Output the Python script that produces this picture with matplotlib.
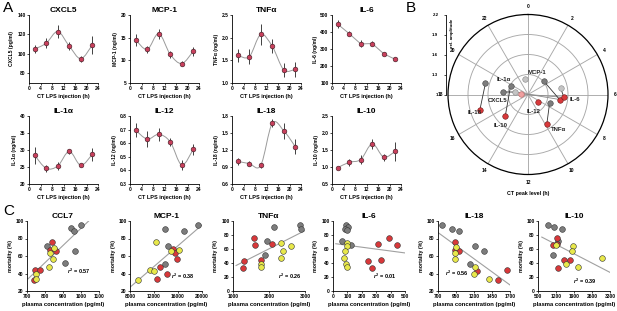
import numpy as np
import matplotlib
matplotlib.use('Agg')
import matplotlib.pyplot as plt
from matplotlib.path import Path
from matplotlib.patches import PathPatch

plt.rcParams['font.family'] = ['Liberation Sans', 'DejaVu Sans']
plt.rcParams['font.weight'] = 'bold'
plt.rcParams['axes.linewidth'] = 0.6
plt.rcParams['mathtext.fontset'] = 'custom'
plt.rcParams['mathtext.it'] = 'Liberation Sans:italic:bold'
plt.rcParams['mathtext.rm'] = 'Liberation Sans:bold'

W, H = 617, 311

# ---- panel A : cytokine levels over CT ----
ct = [2, 6, 10, 14, 18, 22]
cxcl5 = [105, 111, 123, 108, 95, 109]
cxcl5_err = [4, 5, 7, 4, 3, 9]
mcp1 = [14.5, 12.4, 15.9, 11.3, 9.3, 12.0]
mcp1_err = [1.3, 0.8, 1.1, 0.8, 0.5, 1.0]
tnfa = [1.61, 1.58, 2.07, 1.81, 1.29, 1.30]
tnfa_err = [0.15, 0.17, 0.23, 0.15, 0.15, 0.17]
il6 = [446, 390, 330, 332, 272, 239]
il6_err = [25, 15, 20, 15, 10, 12]
il1a = [28.4, 24.6, 25.3, 29.6, 25.5, 28.7]
il1a_err = [2.5, 1.0, 1.2, 0.8, 0.6, 1.8]
il12 = [0.695, 0.63, 0.665, 0.61, 0.44, 0.555]
il12_err = [0.05, 0.06, 0.05, 0.03, 0.04, 0.04]
il18 = [1.0, 0.96, 0.93, 1.67, 1.54, 1.26]
il18_err = [0.06, 0.04, 0.04, 0.07, 0.14, 0.13]
il10 = [0.98, 1.14, 1.22, 1.68, 1.29, 1.46]
il10_err = [0.03, 0.1, 0.12, 0.15, 0.1, 0.28]

# ---- panel B : phase / amplitude (CT h, rel. amplitude) ----
b_gray_h = [18.97, 19.7, 7.5, 3.3, 18.4]
b_gray_a = [1.66, 1.29, 1.35, 1.31, 1.37]
b_red_h = [16.8, 15.1, 9.8, 6.6, 6.3, 8.5]
b_red_a = [1.76, 1.47, 1.52, 1.48, 1.54, 1.18]
b_light_h = [5.3, 18.7, 23.4]
b_light_a = [1.50, 1.20, 1.24]
b_pink_h = [18.3]
b_pink_a = [1.10]
# connecting lines: (from h, from a, to h, to a)
b_links = [(18.97, 1.66, 16.8, 1.76), (19.7, 1.29, 15.1, 1.47),
           (7.5, 1.35, 9.8, 1.52), (3.3, 1.31, 6.6, 1.48),
           (5.3, 1.50, 6.3, 1.54), (18.4, 1.37, 18.7, 1.20)]
b_long = [(18.3, 1.10, 6.3, 1.54), (18.7, 1.20, 6.6, 1.48)]

# ---- panel C : mortality vs plasma concentration ----
ccl7_gray = ([998, 942, 960, 812, 966, 910], [95, 92, 89, 71, 66, 52])
ccl7_red = ([840, 830, 862, 747, 774, 737], [76, 67, 66, 44, 44, 33])
ccl7_yel = ([849, 830, 845, 821, 750, 752], [69, 64, 57, 47, 39, 34])
mcp_gray = ([19400, 17000, 13800, 14300, 13900, 15400], [95, 89, 91, 71, 51, 66])
mcp_red = ([15200, 15500, 15800, 13000, 12500, 14100], [68, 64, 57, 47, 34, 39])
mcp_yel = ([9300, 11400, 12000, 12400, 14800, 16100], [33, 44, 43, 76, 66, 67])
tnf_gray = ([2150, 1950, 1880, 2860, 2900], [91, 71, 52, 95, 89])
tnf_red = ([1300, 1280, 1590, 1620, 1780, 2070], [43, 33, 76, 66, 44, 67])
tnf_yel = ([1770, 1790, 2330, 2380, 2320, 2600], [39, 35, 69, 57, 47, 65])
il6_gray = ([93, 105, 84, 98, 65, 128], [95, 92, 89, 87, 71, 66])
il6_red = ([245, 270, 330, 315, 390, 445], [43, 33, 44, 67, 76, 66])
il6_yel = ([100, 95, 80, 75, 90, 100], [69, 64, 57, 47, 39, 35])
il18_gray = ([760, 890, 990, 1210, 1340, 1150], [95, 91, 89, 71, 66, 51])
il18_red = ([940, 930, 985, 1240, 1530, 1660], [76, 67, 66, 43, 33, 44])
il18_yel = ([950, 935, 935, 1210, 1205, 1410], [70, 64, 57, 47, 39, 34])
il10_gray = ([900, 1120, 1450, 1280, 1080], [95, 91, 89, 71, 52])
il10_red = ([1220, 1080, 1240, 1500, 1750, 1290], [76, 66, 67, 44, 44, 33])
il10_yel = ([1880, 1820, 1580, 2050, 3000, 1200], [64, 57, 39, 34, 47, 66])

fig = plt.figure(figsize=(W / 100, H / 100), dpi=100)


def px_axes(x, top, w, h, **kw):
    return fig.add_axes([x / W, 1 - (top + h) / H, w / W, h / H], **kw)


def style(ax):
    for s in ['top', 'right']:
        ax.spines[s].set_visible(False)
    ax.tick_params(labelsize=3.5, length=1.5, width=0.5, pad=1)
    for lab in ax.get_xticklabels() + ax.get_yticklabels():
        lab.set_fontweight('bold')


def smooth_path(x, y):
    pts = np.column_stack([x, y]).astype(float)
    ext = np.vstack([pts[0], pts, pts[-1]])
    verts = [pts[0]]
    codes = [Path.MOVETO]
    for i in range(len(pts) - 1):
        p0, p1, p2, p3 = ext[i], ext[i + 1], ext[i + 2], ext[i + 3]
        verts += [p1 + (p2 - p0) / 6, p2 - (p3 - p1) / 6, p2]
        codes += [Path.CURVE4] * 3
    return Path(verts, codes)


a_panels = [
    ('CXCL5', 'CXCL5 (pg/ml)', cxcl5, cxcl5_err, (70, 140), [80, 100, 120, 140], True),
    ('MCP-1', 'MCP-1 (ng/ml)', mcp1, mcp1_err, (5, 20), [5, 10, 15, 20], True),
    ('TNFα', 'TNFα (ng/ml)', tnfa, tnfa_err, (1.0, 2.5), [1.0, 1.5, 2.0, 2.5], True),
    ('IL-6', 'IL-6 (ng/ml)', il6, il6_err, (100, 500), [100, 200, 300, 400, 500], False),
    ('IL-1α', 'IL-1α (ng/ml)', il1a, il1a_err, (20, 40), [20, 25, 30, 35, 40], True),
    ('IL-12', 'IL-12 (ng/ml)', il12, il12_err, (0.3, 0.8), [0.3, 0.4, 0.5, 0.6, 0.7, 0.8], True),
    ('IL-18', 'IL-18 (ng/ml)', il18, il18_err, (0.6, 1.8), [0.6, 0.9, 1.2, 1.5, 1.8], True),
    ('IL-10', 'IL-10 (ng/ml)', il10, il10_err, (0.5, 2.5), [0.5, 1.0, 1.5, 2.0, 2.5], True),
]
a_cols = [29, 130, 232, 332]
a_tops = [15, 116]

for i, (title, ylab, vals, errs, ylim, yt, smooth) in enumerate(a_panels):
    ax = px_axes(a_cols[i % 4], a_tops[i // 4], 69, 68)
    if smooth:
        ax.add_patch(PathPatch(smooth_path(ct, vals), fill=False, edgecolor='#9a9a9a', lw=0.7))
    else:
        ax.plot(ct, vals, color='#9a9a9a', lw=0.7)
    ax.errorbar(ct, vals, yerr=errs, fmt='o', ms=3.4, mfc='#c8405c', mec='#3a1a22', mew=0.4,
                ecolor='#222222', elinewidth=0.6, capsize=0, zorder=3)
    ax.set_xlim(0, 24)
    ax.set_xticks(range(0, 25, 4))
    ax.set_ylim(*ylim)
    ax.set_yticks(yt)
    ax.set_title(title, fontsize=6, fontweight='bold', pad=2)
    ax.set_ylabel(ylab, fontsize=3.6, fontweight='bold', labelpad=2)
    ax.set_xlabel('CT LPS injection (h)', fontsize=4, fontweight='bold', labelpad=2)
    style(ax)

# ---- panel C ----
c_panels = [
    ('CCL7', ccl7_gray, ccl7_red, ccl7_yel, (700, 1100), [700, 800, 900, 1000, 1100], (20, 100), [20, 40, 60, 80, 100], '0.57', (0.56, 0.25)),
    ('MCP-1', mcp_gray, mcp_red, mcp_yel, (8000, 20000), [8000, 12000, 16000, 20000], (20, 100), [20, 40, 60, 80, 100], '0.38', (0.57, 0.18)),
    ('TNFα', tnf_gray, tnf_red, tnf_yel, (1000, 3000), [1000, 2000, 3000], (0, 100), [0, 20, 40, 60, 80, 100], '0.26', (0.62, 0.18)),
    ('IL-6', il6_gray, il6_red, il6_yel, (0, 500), [0, 100, 200, 300, 400, 500], (0, 100), [0, 20, 40, 60, 80, 100], '0.01', (0.56, 0.18)),
    ('IL-18', il18_gray, il18_red, il18_yel, (700, 1700), [700, 950, 1200, 1450, 1700], (20, 100), [20, 40, 60, 80, 100], '0.56', (0.1, 0.22)),
    ('IL-10', il10_gray, il10_red, il10_yel, (500, 3300), [500, 1200, 1900, 2600, 3300], (0, 100), [0, 20, 40, 60, 80, 100], '0.39', (0.48, 0.1)),
]
c_cols = [27, 130, 233, 333, 438, 538]

for i, (title, g, r, yl, xlim, xt, ylim, yt, r2, r2pos) in enumerate(c_panels):
    ax = px_axes(c_cols[i], 221, 72, 70)
    xs = np.array(g[0] + r[0] + yl[0], float)
    ys = np.array(g[1] + r[1] + yl[1], float)
    k, b = np.polyfit(xs, ys, 1)
    rng = xs.max() - xs.min()
    lx = np.array([max(xlim[0], xs.min() - 0.12 * rng), min(xlim[1], xs.max() + 0.2 * rng)])
    ax.plot(lx, k * lx + b, color='#a0a0a0', lw=0.8, zorder=1)
    for (px, py), col in [(g, '#7c7c7c'), (r, '#d8383a'), (yl, '#e8e84a')]:
        ax.scatter(px, py, s=17, c=col, edgecolors='#333333', linewidths=0.4, zorder=3)
    ax.set_xlim(*xlim)
    ax.set_xticks(xt)
    ax.set_ylim(*ylim)
    ax.set_yticks(yt)
    ax.set_title(title, fontsize=6, fontweight='bold', pad=2)
    ax.set_ylabel('mortality (%)', fontsize=3.8, fontweight='bold', labelpad=2)
    ax.set_xlabel('plasma concentration (pg/ml)', fontsize=4.2, fontweight='bold', labelpad=2)
    ax.text(r2pos[0], r2pos[1], r'$\mathit{r}^{2}$ = ' + r2, transform=ax.transAxes,
            fontsize=4, fontweight='bold')
    style(ax)

# ---- panel B ----
axb = px_axes(448, 14.5, 160, 160, projection='polar')
axb.set_theta_zero_location('N')
axb.set_theta_direction(-1)
axb.set_ylim(1, 2.2)
axb.set_rgrids([1.3, 1.6, 1.9], labels=[])
hours = list(range(0, 24, 2))
axb.set_thetagrids([h * 15 for h in hours], labels=[str(h) for h in hours])
axb.tick_params(axis='x', labelsize=3.5, pad=-4, length=2.5, width=0.6, direction='out')
for lab in axb.get_xticklabels():
    lab.set_fontweight('bold')
axb.grid(color='#a8a8a8', lw=0.65)
axb.spines['polar'].set_linewidth(0.9)


def th(h):
    return np.asarray(h, float) / 24 * 2 * np.pi


for h1, a1, h2, a2 in b_long:
    axb.plot(th([h1, h2]), [a1, a2], color='#8a8a8a', lw=0.6, zorder=2)
for h1, a1, h2, a2 in b_links:
    axb.plot(th([h1, h2]), [a1, a2], color='#333333', lw=0.6, zorder=2)
axb.plot(th(b_gray_h), b_gray_a, 'o', ms=4, mfc='#7c7c7c', mec='#444444', mew=0.4, zorder=3)
axb.plot(th(b_light_h), b_light_a, 'o', ms=4, mfc='#c4c4c4', mec='#888888', mew=0.4, zorder=3)
axb.plot(th(b_red_h), b_red_a, 'o', ms=4, mfc='#d8383a', mec='#6a1a1a', mew=0.4, zorder=3)
axb.plot(th(b_pink_h), b_pink_a, 'o', ms=4, mfc='#f0a0a0', mec='#b06060', mew=0.4, zorder=3)

b_labels = [('IL-1α', 19.7, 1.29, (-5, 5), 'center'), ('MCP-1', 3.3, 1.31, (-5, 6), 'center'),
            ('IL-6', 6.3, 1.54, (4, -1.5), 'left'), ('CXCL5', 18.4, 1.37, (-4, -6.5), 'center'),
            ('IL-18', 16.8, 1.76, (1.5, -1.5), 'right'), ('IL-10', 15.1, 1.47, (-3, -7), 'center'),
            ('IL-12', 8.5, 1.18, (-3, -7), 'center'), ('TNFα', 9.8, 1.52, (3, -4.5), 'left')]
for txt, h, a, off, ha in b_labels:
    axb.annotate(txt, (th(h), a), xytext=off, textcoords='offset points', ha=ha, va='center',
                 fontsize=4.3, fontweight='bold', color='#222222')
fig.text(528 / W, 1 - 193 / H, 'CT peak level (h)', fontsize=3.8, fontweight='bold',
         ha='center', va='center')

axr = px_axes(446, 14.5, 0.05, 80)
axr.set_ylim(1, 2.2)
axr.set_yticks([1, 1.3, 1.6, 1.9, 2.2])
axr.set_yticklabels(['1', '1.3', '1.6', '1.9', '2.2'])
axr.set_xticks([])
for s in ['top', 'right', 'bottom']:
    axr.spines[s].set_visible(False)
axr.patch.set_visible(False)
axr.tick_params(labelsize=3.2, length=1.5, width=0.5, pad=4)
for lab in axr.get_yticklabels():
    lab.set_fontweight('bold')
fig.text(452 / W, 1 - 33 / H, 'rel. amplitude', fontsize=3.2, fontweight='bold',
         rotation=90, ha='center', va='center')

# panel letters
fig.text(3 / W, 1 - 1 / H, 'A', fontsize=11, fontweight='normal', va='top')
fig.text(406 / W, 1 - 1 / H, 'B', fontsize=11, fontweight='normal', va='top')
fig.text(3 / W, 1 - 204 / H, 'C', fontsize=11, fontweight='normal', va='top')

fig.savefig('out.png', dpi=100)
